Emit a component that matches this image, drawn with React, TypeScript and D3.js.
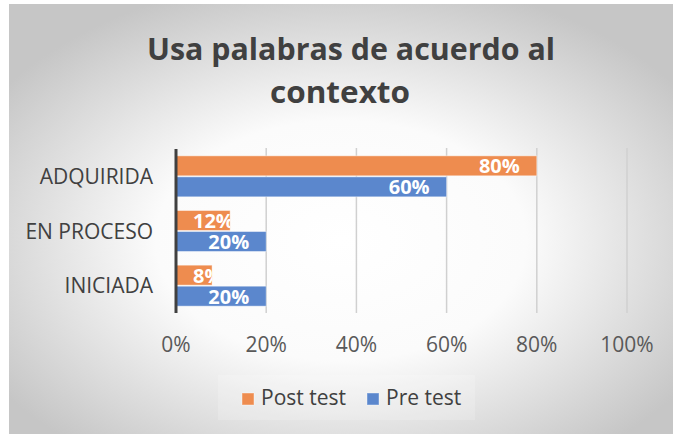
import * as d3 from "d3";

const categories = ["ADQUIRIDA", "EN PROCESO", "INICIADA"];
const seriesNames = ["Post test", "Pre test"];
const postTest = [80, 12, 8];
const preTest = [60, 20, 20];
const xTicks = [0, 20, 40, 60, 80, 100];

const colors: Record<string, string> = {
  "Post test": "#ee8c4f",
  "Pre test": "#5b87cd",
};

const W = 673;
const H = 434;
const FONT = "'Open Sans', 'Noto Sans', sans-serif";

let canvasCtx: CanvasRenderingContext2D | null = null;
const measure = (text: string, font: string) => {
  if (!canvasCtx) canvasCtx = document.createElement("canvas").getContext("2d");
  if (!canvasCtx) return text.length * 13.5;
  canvasCtx.font = font;
  return canvasCtx.measureText(text).width;
};

type Row = { category: string; series: string; value: number };

const rows: Row[] = categories.flatMap((c, i) => [
  { category: c, series: "Post test", value: postTest[i] },
  { category: c, series: "Pre test", value: preTest[i] },
]);

const BarChart = () => {
  const x = d3.scaleLinear().domain([0, 100]).range([176, 627]);
  const y = d3
    .scaleBand<string>()
    .domain(categories)
    .range([149, 313])
    .paddingInner(0.25)
    .paddingOuter(0.125);
  const ySub = d3
    .scaleBand<string>()
    .domain(seriesNames)
    .range([0, y.bandwidth()])
    .paddingInner(0.05);

  const labelFont = `bold 20px ${FONT}`;
  const pad = 17;

  return (
    <svg
      width={W}
      height={H}
      style={{ position: "absolute", left: 0, top: 0 }}
      fontFamily={FONT}
    >
      <defs>
        <radialGradient id="bg" cx="50%" cy="55%" r="62%">
          <stop offset="0%" stopColor="#ffffff" />
          <stop offset="45%" stopColor="#fbfbfb" />
          <stop offset="100%" stopColor="#c6c6c6" />
        </radialGradient>
        {rows.map((r, i) => (
          <clipPath key={i} id={`clip-${i}`}>
            <rect
              x={x(0)}
              y={(y(r.category) ?? 0) + (ySub(r.series) ?? 0)}
              width={x(r.value) - x(0)}
              height={ySub.bandwidth()}
            />
          </clipPath>
        ))}
      </defs>
      <rect x={0} y={0} width={W} height={H} fill="#ffffff" />
      <rect x={9} y={4} width={W - 9} height={H - 4} fill="url(#bg)" />

      <text
        x={351}
        y={60}
        textAnchor="middle"
        fontSize={31}
        fontWeight="bold"
        fill="#404040"
        textLength={408}
        lengthAdjust="spacingAndGlyphs"
      >
        Usa palabras de acuerdo al
      </text>
      <text
        x={340}
        y={103}
        textAnchor="middle"
        fontSize={31}
        fontWeight="bold"
        fill="#404040"
        textLength={140}
        lengthAdjust="spacingAndGlyphs"
      >
        contexto
      </text>

      {xTicks.slice(1).map((t) => (
        <line
          key={t}
          x1={x(t)}
          x2={x(t)}
          y1={148}
          y2={313}
          stroke="#d0d0d0"
          strokeWidth={1.5}
        />
      ))}

      {rows.map((r, i) => {
        const by = (y(r.category) ?? 0) + (ySub(r.series) ?? 0);
        const bh = ySub.bandwidth();
        const end = x(r.value);
        const label = `${r.value}%`;
        const w = measure(label, labelFont);
        let lx = end - pad;
        let anchor = "end";
        if (lx - w < x(0) + pad) {
          lx = x(0) + pad;
          anchor = "start";
        }
        return (
          <g key={i}>
            <rect
              x={x(0)}
              y={by}
              width={end - x(0)}
              height={bh}
              fill={colors[r.series]}
              stroke="#ffffff"
              strokeOpacity={0.45}
              strokeWidth={1}
            />
            <text
              x={lx}
              y={by + bh / 2}
              dy="0.37em"
              textAnchor={anchor}
              fontSize={20}
              fontWeight="bold"
              fill="#ffffff"
              clipPath={`url(#clip-${i})`}
            >
              {label}
            </text>
          </g>
        );
      })}

      <line
        x1={x(0)}
        x2={x(0)}
        y1={149}
        y2={313}
        stroke="#404040"
        strokeWidth={3}
      />

      {categories.map((c) => (
        <text
          key={c}
          x={153}
          y={(y(c) ?? 0) + y.bandwidth() / 2}
          dy="0.37em"
          textAnchor="end"
          fontSize={21}
          fill="#404040"
        >
          {c}
        </text>
      ))}

      {xTicks.map((t) => (
        <text
          key={t}
          x={x(t)}
          y={352}
          textAnchor="middle"
          fontSize={21}
          fill="#595959"
        >
          {`${t}%`}
        </text>
      ))}

      <rect
        x={218}
        y={375}
        width={257}
        height={45}
        fill="#ffffff"
        fillOpacity={0.18}
      />
      {seriesNames.map((s, i) => {
        const lx = i === 0 ? 242 : 367;
        return (
          <g key={s}>
            <rect
              x={lx}
              y={393}
              width={12}
              height={12}
              fill={colors[s]}
              stroke="#ffffff"
              strokeOpacity={0.4}
            />
            <text x={lx + 19} y={405} fontSize={21} fill="#404040">
              {s}
            </text>
          </g>
        );
      })}
    </svg>
  );
};

export default function App() {
  return <BarChart />;
}
